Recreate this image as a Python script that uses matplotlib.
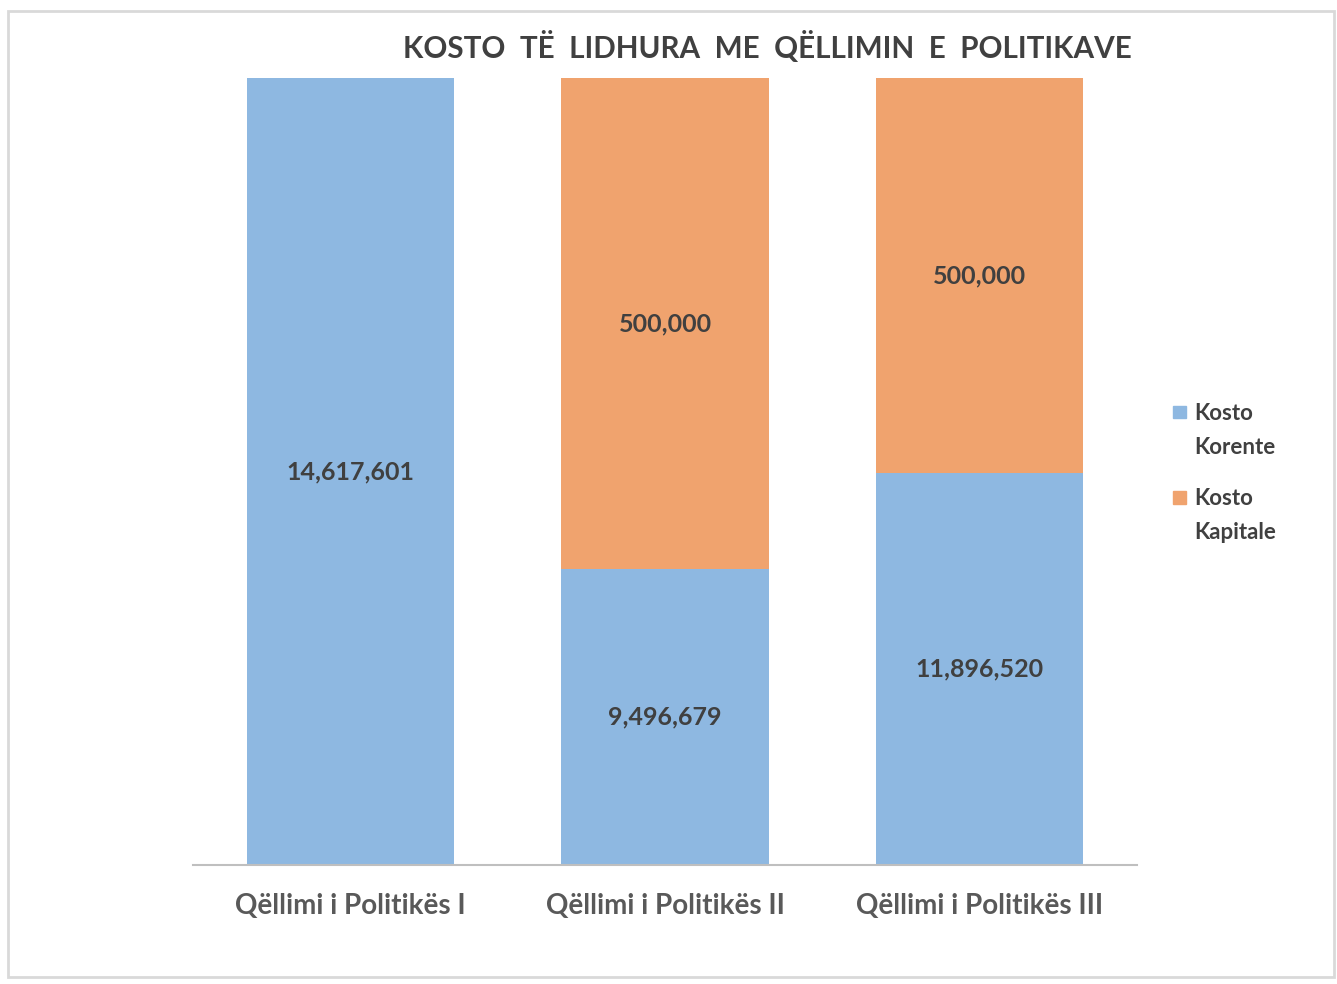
import matplotlib.pyplot as plt
from matplotlib.patches import Rectangle

categories = ["Qëllimi i Politikës I", "Qëllimi i Politikës II", "Qëllimi i Politikës III"]
# bar heights as share of the column (%)
korente_share = [100.0, 37.6, 49.8]
kapitale_share = [0.0, 62.4, 50.2]
# values printed on the bars
korente_labels = ["14,617,601", "9,496,679", "11,896,520"]
kapitale_labels = ["", "500,000", "500,000"]
legend_labels = ["Kosto\nKorente", "Kosto\nKapitale"]

blue = "#8EB8E1"
orange = "#F0A36E"
plt.rcParams["font.family"] = ["Lato", "DejaVu Sans"]

fig = plt.figure(figsize=(13.37, 9.84), dpi=100)
fig.patches.append(Rectangle((0.006, 0.007), 0.992, 0.982, transform=fig.transFigure,
                             fill=False, edgecolor="#D9D9D9", linewidth=2))
ax = fig.add_axes([0.1444, 0.1209, 0.706, 0.7998])

x = range(len(categories))
b1 = ax.bar(x, korente_share, width=0.66, color=blue)
b2 = ax.bar(x, kapitale_share, width=0.66, bottom=korente_share, color=orange)

for rect, lab in zip(b1, korente_labels):
    ax.text(rect.get_x() + rect.get_width() / 2, rect.get_y() + rect.get_height() / 2, lab,
            ha="center", va="center", fontsize=18, fontweight="bold", color="#404040")
for rect, lab in zip(b2, kapitale_labels):
    if lab:
        ax.text(rect.get_x() + rect.get_width() / 2, rect.get_y() + rect.get_height() / 2, lab,
                ha="center", va="center", fontsize=18, fontweight="bold", color="#404040")

ax.set_xlim(-0.5, 2.5)
ax.set_ylim(0, 100)
ax.set_xticks(list(x))
ax.set_xticklabels(categories, fontsize=20, color="#595959", fontweight="bold")
ax.tick_params(axis="x", length=0, pad=20)
ax.set_yticks([])
for s in ["top", "right", "left"]:
    ax.spines[s].set_visible(False)
ax.spines["bottom"].set_color("#BFBFBF")
ax.spines["bottom"].set_linewidth(1.5)

fig.text(0.574, 0.952, "KOSTO  TË  LIDHURA  ME  QËLLIMIN  E  POLITIKAVE", ha="center", va="center",
         fontsize=21.3, color="#404040", fontweight="bold")

# legend: square marker next to the first line of each two-line label
for i, (lab, col) in enumerate(zip(legend_labels, [blue, orange])):
    yc = 0.5813 - i * 0.0864
    fig.patches.append(Rectangle((0.8773, yc - 0.0066), 0.0097, 0.0132, transform=fig.transFigure,
                                 color=col))
    for j, line in enumerate(lab.split("\n")):
        fig.text(0.8935, yc - 0.0085 - j * 0.0346, line, ha="left", va="baseline", fontsize=16,
                 fontweight="bold", color="#404040")

fig.savefig("out.png", dpi=100)
